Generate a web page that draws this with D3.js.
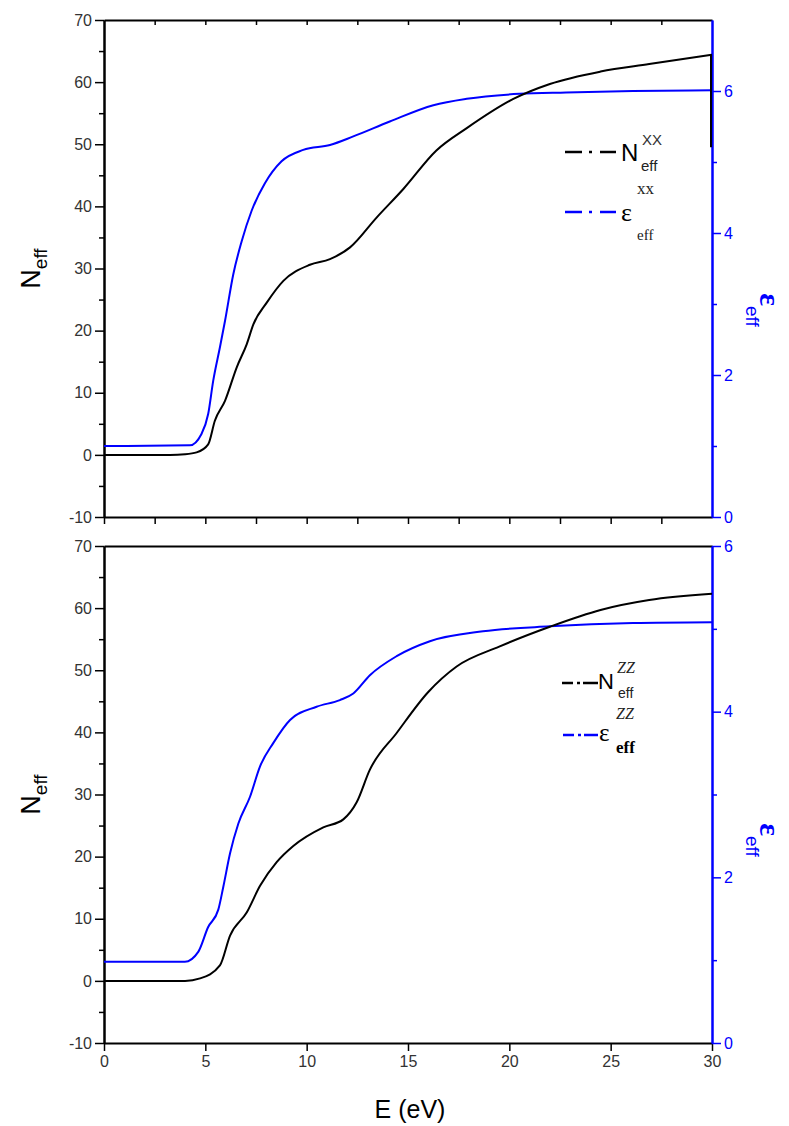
<!DOCTYPE html>
<html>
<head>
<meta charset="utf-8">
<script src="https://cdn.jsdelivr.net/npm/d3@7"></script>
<style>
  body { margin: 0; background: #fff; }
  .axis text { font-family: "Liberation Sans", Arial, sans-serif; font-size: 16px; fill: #333; }
  .axis .domain { stroke-width: 2; }
  .axis line { stroke-width: 1.5; }
</style>
</head>
<body>
<div id="chart"></div>
<script>
// N_eff^xx (black) and eps_eff^xx (blue), top panel
var energy_nxx = [0, 3.26, 4.0, 4.57, 5.14, 5.47, 5.97, 6.55, 7.04, 7.37, 8.03, 8.85, 10.16, 11.15, 12.14, 13.45, 14.77, 16.4, 17.9, 20.2, 22.0, 24.5, 26.9, 30];
var neff_xx = [0, 0, 0.1, 0.4, 1.7, 5.5, 8.7, 14.1, 17.8, 21.0, 24.5, 28.0, 30.6, 31.5, 33.4, 38.2, 42.8, 49.0, 52.6, 57.3, 59.7, 61.7, 62.9, 64.4];
var neff_xx_end = [64.4, 49.5];   // vertical drop at E = 30

var energy_exx = [0, 4.24, 4.81, 5.14, 5.39, 5.72, 5.97, 6.38, 6.79, 7.28, 7.94, 8.76, 9.83, 11.15, 12.3, 14.1, 16.25, 17.9, 20.5, 22.8, 26.1, 30];
var eps_xx = [1.0, 1.01, 1.17, 1.45, 1.92, 2.39, 2.76, 3.42, 3.88, 4.31, 4.70, 5.01, 5.17, 5.24, 5.36, 5.57, 5.80, 5.89, 5.96, 5.98, 6.00, 6.01];

// N_eff^zz (black) and eps_eff^zz (blue), bottom panel
var energy_nzz = [0, 4.0, 4.74, 5.72, 6.22, 7.04, 7.70, 8.52, 9.34, 10.82, 11.81, 12.46, 13.12, 14.44, 16.0, 17.4, 19.5, 22.0, 24.5, 26.9, 30];
var neff_zz = [0, 0, 0.4, 2.5, 7.3, 11.0, 15.3, 19.1, 21.7, 24.7, 26.0, 28.7, 34.0, 39.9, 46.5, 50.6, 53.8, 57.0, 59.7, 61.3, 62.3];

var energy_ezz = [0, 3.99, 4.65, 5.14, 5.64, 5.89, 6.22, 6.63, 7.20, 7.70, 8.35, 9.18, 10.49, 11.64, 12.30, 13.12, 14.44, 16.08, 18.7, 22.0, 26.1, 30];
var eps_zz = [0.98, 0.98, 1.10, 1.40, 1.61, 1.89, 2.29, 2.65, 2.97, 3.34, 3.62, 3.90, 4.06, 4.14, 4.22, 4.44, 4.67, 4.85, 4.97, 5.03, 5.07, 5.08];

// tick values
var x_major = [0, 5, 10, 15, 20, 25, 30];
var x_minor = [2.5, 5, 7.5, 10, 12.5, 15, 17.5, 20, 22.5, 25, 27.5];
var n_major = [-10, 0, 10, 20, 30, 40, 50, 60, 70];
var n_minor = [-5, 5, 15, 25, 35, 45, 55, 65];
var eps_major = [0, 2, 4, 6];
var eps_minor = [1, 3, 5];

var width = 789, height = 1126;
var blue = '#0000ff';
var plain = function(d) { return String(d); };

var svg = d3.select('#chart')
    .append('svg')
    .attr('width', width)
    .attr('height', height);

var x_scale = d3.scaleLinear()
    .domain([0, 30])
    .range([104, 712]);

function zip(xs, ys) {
    return xs.map(function(d, i) { return [d, ys[i]]; });
}

function drawPanel(p) {
    var y_left = d3.scaleLinear().domain([-10, 70]).range([p.bottom, p.top]);
    var y_right = d3.scaleLinear().domain([0, p.epsMax]).range([p.bottom, p.top]);
    var g = svg.append('g');

    // left axis
    g.append('g')
        .attr('class', 'axis')
        .attr('transform', 'translate(' + x_scale(0) + ',0)')
        .call(d3.axisLeft(y_left).tickValues(n_major).tickSize(9).tickSizeOuter(0).tickPadding(3).tickFormat(plain));
    g.append('g')
        .attr('class', 'axis')
        .attr('transform', 'translate(' + x_scale(0) + ',0)')
        .call(d3.axisLeft(y_left).tickValues(n_minor).tickSize(5).tickSizeOuter(0).tickFormat(''));

    // top axis
    var top_ax = g.append('g')
        .attr('class', 'axis')
        .attr('transform', 'translate(0,' + p.top + ')');
    if (p.topTicks) {
        top_ax.call(d3.axisBottom(x_scale).tickValues(x_minor).tickSize(5).tickSizeOuter(0).tickFormat(''));
    } else {
        top_ax.call(d3.axisBottom(x_scale).tickValues([]).tickSizeOuter(0));
    }

    // bottom axis
    var bot_ax = g.append('g')
        .attr('class', 'axis')
        .attr('transform', 'translate(0,' + p.bottom + ')');
    if (p.labels) {
        bot_ax.call(d3.axisBottom(x_scale).tickValues(x_major).tickSize(8).tickSizeOuter(0).tickPadding(5).tickFormat(plain));
    } else {
        bot_ax.call(d3.axisBottom(x_scale).tickValues([0].concat(x_minor)).tickSize(7).tickSizeOuter(0).tickFormat(''));
    }

    // right axis (blue)
    var r1 = g.append('g')
        .attr('class', 'axis')
        .attr('transform', 'translate(' + x_scale(30) + ',0)')
        .call(d3.axisRight(y_right).tickValues(eps_major).tickSize(9).tickSizeOuter(0).tickPadding(3).tickFormat(plain));
    var r2 = g.append('g')
        .attr('class', 'axis')
        .attr('transform', 'translate(' + x_scale(30) + ',0)')
        .call(d3.axisRight(y_right).tickValues(eps_minor).tickSize(5).tickSizeOuter(0).tickFormat(''));
    [r1, r2].forEach(function(r) {
        r.selectAll('.domain, line').attr('stroke', blue);
        r.selectAll('text').style('fill', blue);
    });

    // curves
    var lineN = d3.line()
        .x(function(d) { return x_scale(d[0]); })
        .y(function(d) { return y_left(d[1]); })
        .curve(d3.curveMonotoneX);
    var lineE = d3.line()
        .x(function(d) { return x_scale(d[0]); })
        .y(function(d) { return y_right(d[1]); })
        .curve(d3.curveMonotoneX);

    g.append('path')
        .datum(zip(p.eE, p.eps))
        .attr('d', lineE)
        .attr('fill', 'none')
        .attr('stroke', blue)
        .attr('stroke-width', 2);

    g.append('path')
        .datum(zip(p.nE, p.n))
        .attr('d', lineN)
        .attr('fill', 'none')
        .attr('stroke', '#000')
        .attr('stroke-width', 2);

    if (p.tail) {
        g.append('path')
            .datum(zip([30, 30], p.tail))
            .attr('d', d3.line()
                .x(function(d) { return x_scale(d[0]) - 1; })
                .y(function(d) { return y_left(d[1]); }))
            .attr('fill', 'none')
            .attr('stroke', '#000')
            .attr('stroke-width', 2);
    }

    // left title: N_eff
    var lt = g.append('text')
        .attr('transform', 'translate(40,' + (p.top + p.bottom) / 2 + ') rotate(-90)')
        .attr('text-anchor', 'middle')
        .style('font-family', '"Liberation Sans", Arial, sans-serif')
        .style('fill', '#000');
    lt.append('tspan').style('font-size', '27px').text('N');
    lt.append('tspan').style('font-size', '19px').attr('dy', 7).text('eff');

    // right title: eps_eff
    var rt = g.append('text')
        .attr('transform', 'translate(760,' + p.rightTitleY + ') rotate(90)')
        .attr('text-anchor', 'middle')
        .style('fill', blue);
    rt.append('tspan')
        .style('font-family', '"Liberation Serif", "Times New Roman", serif')
        .style('font-size', '30px')
        .style('font-weight', 'bold')
        .text('\u03b5');
    rt.append('tspan')
        .style('font-family', '"Liberation Sans", Arial, sans-serif')
        .style('font-size', '19px')
        .attr('dy', 14)
        .text('eff');

    return g;
}

drawPanel({ top: 20, bottom: 517, epsMax: 7, topTicks: true, labels: false,
    nE: energy_nxx, n: neff_xx, tail: neff_xx_end, eE: energy_exx, eps: eps_xx, rightTitleY: 310 });
drawPanel({ top: 546, bottom: 1043, epsMax: 6, topTicks: false, labels: true,
    nE: energy_nzz, n: neff_zz, tail: null, eE: energy_ezz, eps: eps_zz, rightTitleY: 840 });

// x axis title
svg.append('text')
    .attr('x', 410)
    .attr('y', 1118)
    .attr('text-anchor', 'middle')
    .style('font-family', '"Liberation Sans", Arial, sans-serif')
    .style('font-size', '25px')
    .text('E (eV)');

// legends
var sans = '"Liberation Sans", Arial, sans-serif';
var serif = '"Liberation Serif", "Times New Roman", serif';

function legendLine(x0, x1, y, color, dash) {
    svg.append('line')
        .attr('x1', x0).attr('x2', x1)
        .attr('y1', y).attr('y2', y)
        .attr('stroke', color)
        .attr('stroke-width', 2.5)
        .attr('stroke-dasharray', dash);
}

function label(x, y, txt, family, size, opts) {
    opts = opts || {};
    return svg.append('text')
        .attr('x', x).attr('y', y)
        .style('font-family', family)
        .style('font-size', size + 'px')
        .style('font-style', opts.italic ? 'italic' : 'normal')
        .style('font-weight', opts.bold ? 'bold' : 'normal')
        .style('fill', opts.fill || '#000')
        .text(txt);
}

// top legend
legendLine(565, 616, 152, '#000', '17 7 3 8 16');
label(621, 161, 'N', sans, 24);
label(642, 145, 'XX', sans, 15, { fill: '#333' });
label(641, 171, 'eff', sans, 15, { fill: '#222' });
legendLine(565, 616, 212, blue, '17 7 3 8 16');
label(621, 221, '\u03b5', serif, 26);
label(637, 194, 'xx', serif, 17, { fill: '#222' });
label(637, 240, 'eff', serif, 15, { fill: '#222' });

// bottom legend
legendLine(562, 598, 683, '#000', '11 4 3 3 15');
label(598, 689, 'N', sans, 22);
label(617, 673, 'ZZ', serif, 16, { italic: true, fill: '#222' });
label(618, 698, 'eff', sans, 14, { fill: '#222' });
legendLine(563, 598, 735, blue, '11 4 3 3 15');
label(599, 741, '\u03b5', serif, 25);
label(616, 719, 'ZZ', serif, 16, { italic: true, fill: '#222' });
label(616, 753, 'eff', serif, 17, { bold: true });
</script>
</body>
</html>
